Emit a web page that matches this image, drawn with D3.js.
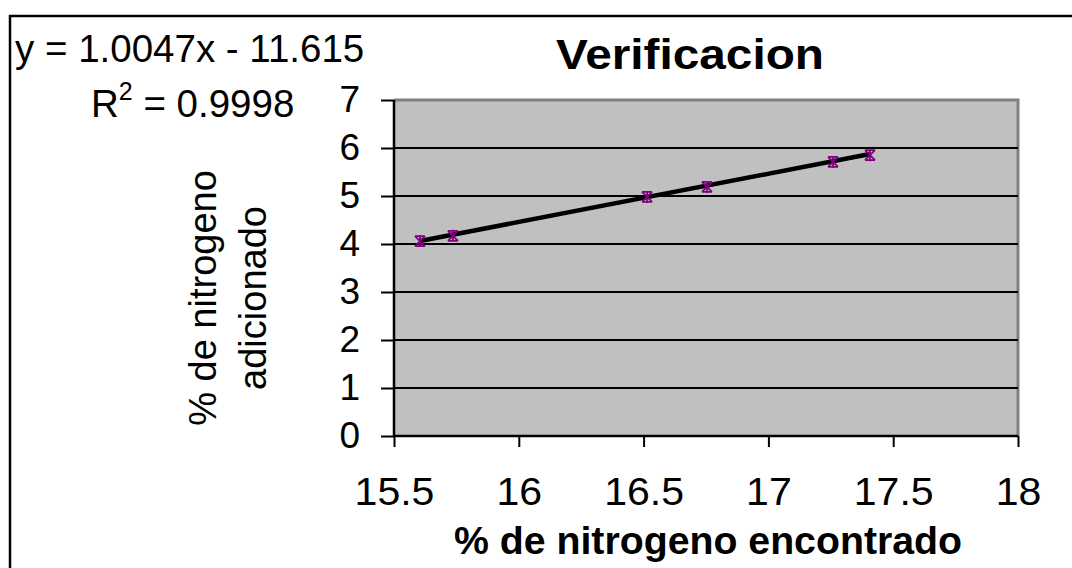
<!DOCTYPE html>
<html>
<head>
<meta charset="utf-8">
<script src="https://cdn.jsdelivr.net/npm/d3@7"></script>
<style>
  body { margin: 0; background: #fff; }
  svg text { font-family: "Liberation Sans", Arial, sans-serif; fill: #000; }
</style>
</head>
<body>
<div id="chart"></div>
<script>
// data
const nEncontrado = [15.604, 15.736, 16.514, 16.754, 17.259, 17.407];
const nAdicionado = [4.06, 4.17, 4.98, 5.19, 5.71, 5.85];
const xTicks = [15.5, 16, 16.5, 17, 17.5, 18];
const yTicks = [0, 1, 2, 3, 4, 5, 6, 7];
const slope = 1.0047, intercept = -11.615;

const W = 1072, H = 568;
const margin = {top: 100, right: 54, bottom: 132, left: 394};
const width = W - margin.left - margin.right;
const height = H - margin.top - margin.bottom;

const svg = d3.select("#chart").append("svg")
    .attr("width", W)
    .attr("height", H);

// outer chart border
svg.append("rect")
    .attr("x", 10).attr("y", 16)
    .attr("width", 1100).attr("height", 600)
    .attr("fill", "none").attr("stroke", "#000").attr("stroke-width", 2.5);

const g = svg.append("g")
    .attr("transform", `translate(${margin.left},${margin.top})`);

const x = d3.scaleLinear().domain([15.5, 18]).range([0, width]);
const y = d3.scaleLinear().domain([0, 7]).range([height, 0]);

// plot area
g.append("rect")
    .attr("width", width).attr("height", height)
    .attr("fill", "#c0c0c0");
g.append("path")
    .attr("d", `M0,0H${width}V${height}`)
    .attr("fill", "none").attr("stroke", "#808080").attr("stroke-width", 3);

// gridlines
g.selectAll(".grid")
    .data(yTicks.filter(d => d > 0 && d < 7))
    .enter().append("line")
    .attr("class", "grid")
    .attr("x1", 0).attr("x2", width)
    .attr("y1", d => y(d)).attr("y2", d => y(d))
    .attr("stroke", "#000").attr("stroke-width", 2);

// axes
const yAxis = d3.axisLeft(y).tickValues(yTicks).tickSize(13).tickPadding(21).tickFormat(d3.format("d"));
const xAxis = d3.axisBottom(x).tickValues(xTicks).tickSize(11).tickFormat(d => d);

const ya = g.append("g").call(yAxis);
const xa = g.append("g").attr("transform", `translate(0,${height})`).call(xAxis);
[ya, xa].forEach(a => {
    a.select(".domain").attr("stroke", "#000").attr("stroke-width", 2.5);
    a.selectAll(".tick line").attr("stroke", "#000").attr("stroke-width", 2);
    a.selectAll(".tick text").style("font-size", "37px").attr("fill", "#000");
});
ya.select(".domain").attr("d", `M0,${height}V0`);
xa.select(".domain").attr("d", `M0,0H${width}`);
// x tick labels sit lower and a bit wider in the original
xa.selectAll(".tick text")
    .attr("y", 69).attr("dy", "0")
    .style("font-size", "38px")
    .attr("transform", "scale(1.08,1)");

// series line + markers
const pts = nEncontrado.map((v, i) => [v, nAdicionado[i]]);
g.append("path")
    .datum(pts)
    .attr("d", d3.line().x(d => x(d[0])).y(d => y(d[1])))
    .attr("fill", "none").attr("stroke", "#800080").attr("stroke-width", 1.5);

// trendline
const xMin = d3.min(nEncontrado), xMax = d3.max(nEncontrado);
g.append("line")
    .attr("x1", x(xMin)).attr("y1", y(slope * xMin + intercept))
    .attr("x2", x(xMax)).attr("y2", y(slope * xMax + intercept))
    .attr("stroke", "#000").attr("stroke-width", 4.5);

const star = g.selectAll(".mk")
    .data(pts)
    .enter().append("g")
    .attr("class", "mk")
    .attr("transform", d => `translate(${x(d[0])},${y(d[1])})`);
star.append("path")
    .attr("d", "M-5,-5L5,5M-5,5L5,-5M0,-6V6M-5,-5H5M-5,5H5")
    .attr("stroke", "#800080").attr("stroke-width", 1.8).attr("fill", "none");

// title
svg.append("text")
    .attr("x", 690).attr("y", 69)
    .attr("text-anchor", "middle")
    .attr("textLength", 268).attr("lengthAdjust", "spacingAndGlyphs")
    .style("font-size", "42px").style("font-weight", "bold")
    .text("Verificacion");

// axis titles
svg.append("text")
    .attr("x", 708).attr("y", 554)
    .attr("text-anchor", "middle")
    .attr("textLength", 508).attr("lengthAdjust", "spacingAndGlyphs")
    .style("font-size", "38px").style("font-weight", "bold")
    .text("% de nitrogeno encontrado");

const yt = svg.append("text")
    .attr("transform", "translate(0,298) rotate(-90)")
    .attr("text-anchor", "middle")
    .style("font-size", "38px");
yt.append("tspan").attr("x", 0).attr("y", 216).text("% de nitrogeno");
yt.append("tspan").attr("x", 0).attr("y", 266).text("adicionado");

// regression label
svg.append("text")
    .attr("x", 15).attr("y", 62)
    .style("font-size", "38.5px")
    .text("y = 1.0047x - 11.615");
const r2 = svg.append("text")
    .attr("x", 91).attr("y", 117)
    .style("font-size", "38.5px");
r2.append("tspan").text("R");
r2.append("tspan").attr("dy", -17).style("font-size", "25px").text("2");
r2.append("tspan").attr("dy", 17).text(" = 0.9998");
</script>
</body>
</html>
